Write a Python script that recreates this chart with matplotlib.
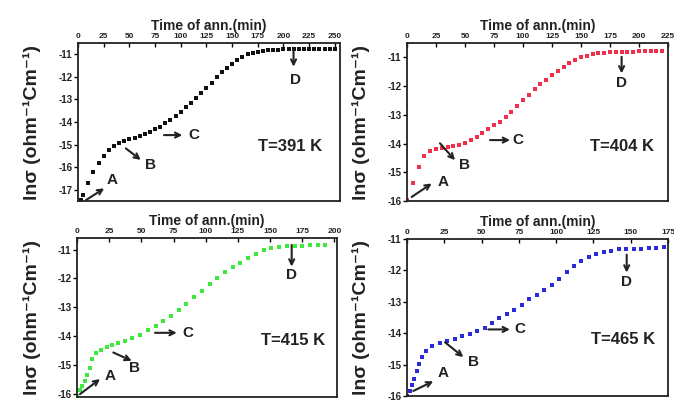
import matplotlib
matplotlib.use("Agg")
import matplotlib.pyplot as plt

plt.rcParams['font.family'] = ['Liberation Sans', 'DejaVu Sans']
plt.rcParams['axes.unicode_minus'] = False

# ---------------- data ----------------
t391 = [3, 5, 10, 15, 20, 25, 30, 35, 40, 45, 50, 55, 60, 65, 70, 75, 80, 85, 90, 95,
        100, 105, 110, 115, 120, 125, 130, 135, 140, 145, 150, 155, 160, 165, 170, 175,
        180, 185, 190, 195, 200, 205, 210, 215, 220, 225, 230, 235, 240, 245, 250]
v391 = [-17.45, -17.25, -16.70, -16.22, -15.82, -15.50, -15.25, -15.05, -14.92, -14.82,
        -14.75, -14.70, -14.64, -14.55, -14.45, -14.33, -14.21, -14.06, -13.91, -13.73,
        -13.54, -13.35, -13.15, -12.93, -12.72, -12.48, -12.25, -12.02, -11.80, -11.60,
        -11.42, -11.25, -11.12, -11.00, -10.93, -10.88, -10.85, -10.82, -10.80, -10.79,
        -10.78, -10.77, -10.77, -10.76, -10.76, -10.76, -10.76, -10.75, -10.75, -10.75, -10.75]

t404 = [0, 5, 10, 15, 20, 25, 30, 35, 40, 45, 50, 55, 60, 65, 70, 75, 80, 85, 90, 95,
        100, 105, 110, 115, 120, 125, 130, 135, 140, 145, 150, 155, 160, 165, 170, 175,
        180, 185, 190, 195, 200, 205, 210, 215, 220]
v404 = [-15.95, -15.38, -14.80, -14.42, -14.27, -14.20, -14.16, -14.12, -14.08, -14.04,
        -13.97, -13.87, -13.76, -13.64, -13.51, -13.37, -13.24, -13.08, -12.91, -12.71,
        -12.50, -12.30, -12.10, -11.92, -11.78, -11.61, -11.47, -11.33, -11.20, -11.09,
        -11.00, -10.94, -10.89, -10.86, -10.84, -10.83, -10.82, -10.81, -10.80, -10.80,
        -10.79, -10.79, -10.78, -10.78, -10.77]

t415 = [0, 2, 4, 6, 8, 10, 12, 15, 19, 23, 27, 32, 37, 43, 49, 55, 61, 67, 73, 79, 85,
        91, 97, 103, 109, 115, 121, 127, 133, 139, 145, 151, 157, 163, 169, 175, 181, 187, 193]
v415 = [-16.05, -15.85, -15.72, -15.55, -15.35, -15.10, -14.80, -14.58, -14.47, -14.38,
        -14.31, -14.24, -14.17, -14.07, -13.94, -13.79, -13.63, -13.46, -13.29, -13.10,
        -12.89, -12.65, -12.43, -12.20, -11.98, -11.79, -11.62, -11.45, -11.28, -11.14,
        -11.03, -10.96, -10.92, -10.89, -10.87, -10.86, -10.85, -10.85, -10.84]

t465 = [0, 2, 3.5, 5, 6.5, 8, 10, 13, 17, 22, 27, 32, 37, 42, 47, 52, 57, 62, 67, 72, 77,
        82, 87, 92, 97, 102, 107, 112, 117, 122, 127, 132, 137, 142, 147, 152, 157, 162, 167, 172]
v465 = [-16.00, -15.85, -15.65, -15.45, -15.20, -14.97, -14.76, -14.56, -14.40, -14.30,
        -14.24, -14.18, -14.10, -14.01, -13.92, -13.82, -13.68, -13.53, -13.40, -13.25,
        -13.10, -12.92, -12.78, -12.63, -12.46, -12.27, -12.05, -11.85, -11.69, -11.56,
        -11.47, -11.41, -11.37, -11.32, -11.33, -11.33, -11.32, -11.30, -11.29, -11.27]

temps = ["T=391 K", "T=404 K", "T=415 K", "T=465 K"]
colors = ["#111111", "#f0304a", "#3ee83e", "#2a2ad8"]

xlims = [(0, 255), (0, 225), (0, 202), (0, 175)]
ylims = [(-17.5, -10.5), (-16, -10.5), (-16.1, -10.6), (-16, -11)]
xticks = [list(range(0, 251, 25)), list(range(0, 226, 25)),
          list(range(0, 201, 25)), list(range(0, 176, 25))]
yticks = [list(range(-17, -10)), list(range(-16, -10)),
          list(range(-16, -10)), list(range(-16, -10))]

# annotations: (tail, head, text position) in data coords
annA = [((7.8, -17.46), (25.5, -16.94), (33.6, -16.58)),
        ((4, -15.86), (21.3, -15.39), (31.3, -15.33)),
        ((2.3, -16.0), (17.9, -15.48), (25.6, -15.37)),
        ((4.2, -15.84), (17.6, -15.53), (24.3, -15.28))]
annB = [((46.6, -15.17), (61.1, -15.68), (70.8, -15.9)),
        ((28.4, -13.99), (41.4, -14.58), (50, -14.75)),
        ((28.2, -14.56), (42.5, -14.85), (45, -15.08)),
        ((25.5, -14.29), (37.8, -14.76), (44.5, -14.91))]
annC = [((83.7, -14.58), (101.5, -14.58), (112.8, -14.58)),
        ((71.6, -13.88), (88.8, -13.88), (96, -13.88)),
        ((60.6, -13.88), (77.5, -13.88), (86.5, -13.88)),
        ((54.5, -13.88), (69, -13.88), (75.8, -13.88))]
annD = [((209.8, -10.73), (209.8, -11.55), (211.4, -12.14)),
        ((185, -10.98), (185, -11.56), (185, -11.9)),
        ((166.8, -10.84), (166.8, -11.59), (166.8, -11.87)),
        ((147.3, -11.5), (147.3, -12.07), (147.3, -12.38))]
tpos = [(206.6, -15.1), (185, -14.11), (168, -14.16), (145, -14.19)]

series = [(t391, v391), (t404, v404), (t415, v415), (t465, v465)]

# axes rectangles in pixels (left, top, right, bottom)
W, H = 674, 403
rects_px = [(78, 43, 340, 201), (407, 43, 668, 201), (77, 238, 337, 397), (407, 239, 668, 396)]

fig = plt.figure(figsize=(W / 100, H / 100), dpi=100)

for i in range(4):
    l, t, r, b = rects_px[i]
    ax = fig.add_axes([l / W, (H - b) / H, (r - l) / W, (b - t) / H])
    tt, vv = series[i]
    ax.plot(tt, vv, linestyle="none", marker="s", markersize=2.6,
            color=colors[i], markeredgewidth=0)
    ax.set_xlim(*xlims[i])
    ax.set_ylim(*ylims[i])
    ax.set_xticks(xticks[i])
    ax.set_yticks(yticks[i])
    ax.xaxis.tick_top()
    ax.xaxis.set_label_position("top")
    ax.tick_params(axis="x", direction="in", length=3, width=1, pad=2,
                   labelsize=6, top=True, bottom=False)
    ax.tick_params(axis="y", direction="out", length=3, width=1, pad=1,
                   labelsize=7, left=True, right=False)
    for lab in ax.get_xticklabels() + ax.get_yticklabels():
        lab.set_fontweight("bold")
        lab.set_color("#222222")
    for s in ax.spines.values():
        s.set_linewidth(1.3)
        s.set_color("#222222")
    ax.set_xlabel("Time of ann.(min)", fontsize=10, fontweight="bold", labelpad=2,
                  color="#222222")
    ax.set_ylabel("lnσ (ohm⁻¹Cm⁻¹)", fontsize=14, fontweight="bold", color="#222222")
    ax.yaxis.set_label_coords(-0.14, 0.5)

    for (tail, head, tp), lab in zip([annA[i], annB[i], annC[i], annD[i]], "ABCD"):
        ax.annotate("", xy=head, xytext=tail,
                    arrowprops=dict(arrowstyle="->", lw=1.5, color="#222222",
                                    mutation_scale=9, shrinkA=0, shrinkB=0))
        ax.text(tp[0], tp[1], lab, fontsize=11, fontweight="bold", ha="center",
                va="center", color="#222222")
    ax.text(tpos[i][0], tpos[i][1], temps[i], fontsize=12, fontweight="bold",
            ha="center", va="center", color="#222222")

fig.savefig("out.png", dpi=100)
